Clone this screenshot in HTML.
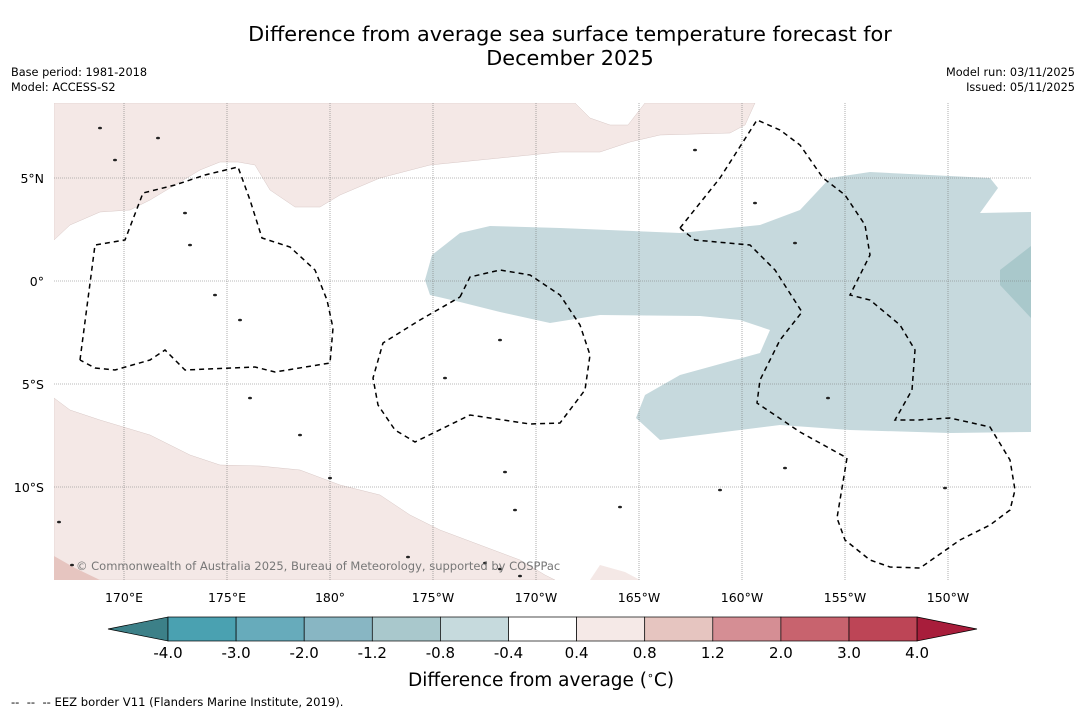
<!DOCTYPE html>
<html><head><meta charset="utf-8"><style>
body{margin:0;background:#fff;font-family:"DejaVu Sans","Liberation Sans",sans-serif;}
#wrap{position:relative;width:1085px;height:713px;overflow:hidden;background:#fff}
.t{position:absolute;color:#000}
svg text{font-family:"DejaVu Sans","Liberation Sans",sans-serif}
</style></head><body>
<div id="wrap">
<div class="t" style="left:0;width:1140px;top:22px;text-align:center;font-size:20.8px;line-height:24px">Difference from average sea surface temperature forecast for<br>December 2025</div>
<div class="t" style="left:11px;top:65px;font-size:11.3px;line-height:15px">Base period: 1981-2018<br>Model: ACCESS-S2</div>
<div class="t" style="right:10px;top:65px;font-size:11.3px;line-height:15px;text-align:right">Model run: 03/11/2025<br>Issued: 05/11/2025</div>
<svg id="svg" width="1085" height="713" style="position:absolute;left:0;top:0"></svg>
<div class="t" style="left:408px;top:669px;font-size:18.5px">Difference from average (<sup style="font-size:11px">∘</sup>C)</div>
<div class="t" style="left:11px;top:695px;font-size:11.6px">-- &nbsp;-- &nbsp;-- EEZ border V11 (Flanders Marine Institute, 2019).</div>
</div>
<script>
const NS="http://www.w3.org/2000/svg";
const svg=document.getElementById('svg');
const lonTicks=[170,175,180,185,190,195,200,205,210];
const lonLabels=["170°E","175°E","180°","175°W","170°W","165°W","160°W","155°W","150°W"];
const latTicks=[5,0,-5,-10];
const latLabels=["5°N","0°","5°S","10°S"];
const cbLevels=["-4.0","-3.0","-2.0","-1.2","-0.8","-0.4","0.4","0.8","1.2","2.0","3.0","4.0"];
const cbColors=["#4aa1b1","#67abbb","#88b6c3","#a9c8cc","#c6dadd","#ffffff","#f5e9e7","#e6c5c0","#d58e94","#c8636e","#bd4556"];
const MAP={x0:54,x1:1031,y0:103,y1:580};
const px=l=>124+(l-170)*20.6, py=l=>281-l*20.6;
const pxl=x=>170+(x-124)/20.6, pyl=y=>(281-y)/20.6;
function el(tag,attrs,name,parent){const e=document.createElementNS(NS,tag);for(const k in attrs)e.setAttribute(k,attrs[k]);


(parent||svg).appendChild(e);return e;}
function poly(pts){return pts.map(p=>[pxl(p[0]),pyl(p[1])]);}
const pinkTop=poly([[54,103],[575,103],[590,118],[610,125],[628,125],[645,103],[755,103],[745,125],[730,133],[660,135],[630,142],[600,152],[560,152],[480,160],[430,165],[380,178],[340,195],[320,207],[295,207],[270,190],[255,165],[238,162],[220,162],[200,170],[150,200],[130,210],[100,212],[70,225],[54,240]]);
const pinkBot=poly([[54,398],[70,410],[100,420],[150,435],[190,455],[220,465],[260,466],[300,470],[340,485],[380,495],[410,515],[440,530],[480,545],[520,560],[545,575],[555,580],[54,580]]);
const pinkBot2=poly([[600,565],[625,572],[640,580],[590,580]]);
const pinkDark=poly([[54,556],[75,568],[100,580],[54,580]]);
const blue=poly([[425,280],[432,255],[460,233],[490,226],[560,228],[680,233],[760,225],[800,210],[830,178],[870,172],[990,178],[998,188],[980,213],[1031,212],[1031,432],[950,433],[850,430],[780,425],[700,435],[660,440],[636,418],[645,395],[680,375],[760,353],[770,330],[740,320],[700,316],[600,315],[550,323],[500,312],[460,302],[430,295]]);
const blue2=poly([[1000,270],[1031,246],[1031,318],[1000,285]]);
const eez1=poly([[80,360],[95,245],[125,240],[143,193],[175,185],[205,175],[238,167],[250,200],[262,238],[290,247],[315,270],[327,300],[333,328],[330,363],[275,372],[255,367],[185,370],[165,350],[150,360],[115,370],[95,368],[80,360]]);
const eez2=poly([[460,297],[470,277],[500,270],[530,275],[560,295],[580,325],[590,355],[585,390],[560,423],[530,424],[470,415],[415,442],[395,430],[378,405],[373,378],[383,343],[420,320],[460,297]]);
const eez3=poly([[680,228],[720,178],[757,120],[780,130],[800,145],[823,178],[845,195],[865,225],[870,255],[850,295],[870,300],[900,325],[915,350],[912,390],[895,420],[918,420],[950,418],[990,427],[1010,460],[1015,490],[1010,510],[990,525],[960,540],[920,568],[890,567],[870,560],[845,540],[837,518],[847,458],[800,432],[757,403],[760,380],[780,340],[802,312],[775,270],[750,245],[695,240],[680,228]]);
const pathOf=pts=>pts.map((p,i)=>(i?'L':'M')+px(p[0]).toFixed(1)+','+py(p[1]).toFixed(1)).join('');
const defs=el('defs',{},'defs');
const cp=el('clipPath',{id:'mc'},'map-clip',defs);
el('rect',{x:MAP.x0,y:MAP.y0,width:MAP.x1-MAP.x0,height:MAP.y1-MAP.y0},'map-clip-rect',cp);
const g=el('g',{'clip-path':'url(#mc)'},'map-area');
el('path',{d:pathOf(pinkTop)+'Z',fill:'#f4e8e6',stroke:'#d8c8c6','stroke-width':0.5},'anomaly-warm-north',g);
el('path',{d:pathOf(pinkBot)+'Z',fill:'#f4e8e6',stroke:'#d8c8c6','stroke-width':0.5},'anomaly-warm-south',g);
el('path',{d:pathOf(pinkBot2)+'Z',fill:'#f4e8e6'},'anomaly-warm-south-2',g);
el('path',{d:pathOf(pinkDark)+'Z',fill:'#e6c5c0'},'anomaly-warm-sw',g);
el('path',{d:pathOf(blue)+'Z',fill:'#c6d9dd'},'anomaly-cool-tongue',g);
el('path',{d:pathOf(blue2)+'Z',fill:'#a9c8cb'},'anomaly-cool-core',g);
lonTicks.forEach((l,i)=>{el('line',{x1:px(l),x2:px(l),y1:MAP.y0,y2:MAP.y1,stroke:'#777','stroke-width':0.6,'stroke-dasharray':'1,1'},'lon-gridline',g);
const t=el('text',{x:px(l),y:602,'text-anchor':'middle','font-size':12.5},'lon-label');t.textContent=lonLabels[i];});
latTicks.forEach((l,i)=>{el('line',{x1:MAP.x0,x2:MAP.x1,y1:py(l),y2:py(l),stroke:'#777','stroke-width':0.6,'stroke-dasharray':'1,1'},'lat-gridline',g);
const t=el('text',{x:44,y:py(l)+5,'text-anchor':'end','font-size':12.5},'lat-label');t.textContent=latLabels[i];});
[eez1,eez2,eez3].forEach((e,i)=>el('path',{d:pathOf(e),fill:'none',stroke:'#000','stroke-width':1.5,'stroke-dasharray':'5,4'},'eez-border-'+(i+1),g));
const islands=[[185,213],[190,245],[215,295],[240,320],[250,398],[300,435],[330,478],[445,378],[500,340],[505,472],[515,510],[620,507],[720,490],[755,203],[795,243],[785,468],[828,398],[945,488],[59,522],[72,565],[408,557],[485,563],[500,569],[520,576],[695,150],[100,128],[158,138],[115,160]];
islands.forEach(p=>el('ellipse',{cx:p[0],cy:p[1],rx:2,ry:1.3,fill:'#222'},'island',g));
const cr=el('text',{x:76,y:570,'font-size':11.5,fill:'#777'},'copyright-text');cr.textContent='© Commonwealth of Australia 2025, Bureau of Meteorology, supported by COSPPac';
const cbX0=168,cbW=68.1,cbY=617,cbH=24;
const cbx=i=>cbX0+i*cbW;
el('polygon',{points:`108,629 ${cbX0},${cbY} ${cbX0},${cbY+cbH}`,fill:'#3c8088',stroke:'#000','stroke-width':0.7},'colorbar-extend-low');
cbColors.forEach((c,i)=>el('rect',{x:cbx(i),y:cbY,width:cbW,height:cbH,fill:c,stroke:'#000','stroke-width':0.7},'colorbar-bin'));
const xe=cbx(cbColors.length);
el('polygon',{points:`${xe},${cbY} 977,629 ${xe},${cbY+cbH}`,fill:'#a81d3b',stroke:'#000','stroke-width':0.7},'colorbar-extend-high');
cbLevels.forEach((v,i)=>{const t=el('text',{x:cbx(i),y:658,'text-anchor':'middle','font-size':15},'colorbar-tick-label');t.textContent=v;});
</script>
</body></html>
